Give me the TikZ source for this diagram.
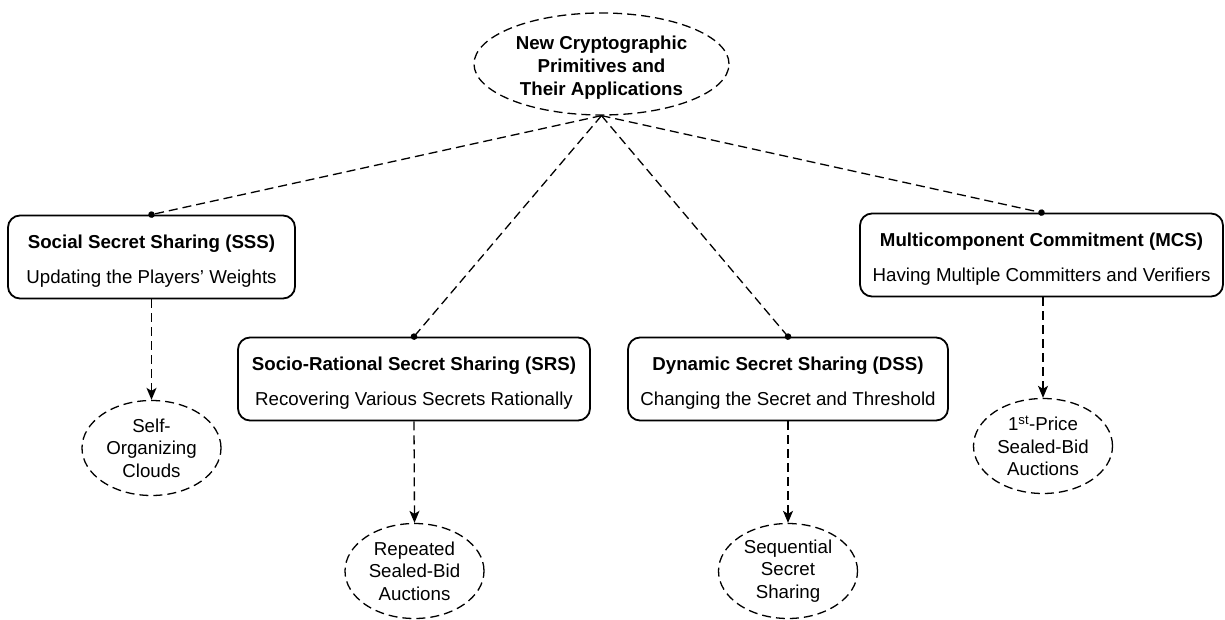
\documentclass[tikz,border=0pt]{standalone}
\usepackage{fontspec}
\setmainfont{Liberation Sans}
\usetikzlibrary{shapes.geometric,arrows.meta}
% strut that lowers a two-line text block inside its frame
\newcommand{\lowerstrut}{\rule{0pt}{22pt}}
\begin{document}
\begin{tikzpicture}[x=1pt,y=-1pt,
  txt/.style={font=\fontsize{18.7}{23}\selectfont},
  dashline/.style={dash pattern=on 9pt off 5pt,line width=1.3pt},
  topic/.style={ellipse,draw,dashline,minimum width=255pt,minimum height=102pt,
    inner sep=0pt,align=center,font=\fontsize{18.7}{23}\bfseries\selectfont},
  scheme/.style={draw,rounded corners=12pt,line width=1.8pt,minimum height=83pt,
    inner sep=0pt,align=center,txt},
  app/.style={ellipse,draw,dashline,minimum width=139pt,minimum height=95pt,
    inner sep=0pt,align=center,font=\fontsize{18.7}{22.5}\selectfont},
  hook/.style={dashline,-{Circle[length=6.5pt]},shorten >=-3.25pt},
  feed/.style={dashline,-{Stealth[length=12pt,width=10pt,inset=3pt]}}
]
\useasboundingbox (0,0) rectangle (1225,620);

% root topic
\node[topic] (root) at (601.5,64) {\rule{0pt}{21pt}New Cryptographic\\Primitives and\\Their Applications};

% the four schemes
\node[scheme,minimum width=287pt] (sss) at (151.5,257)
  {\lowerstrut\textbf{Social Secret Sharing (SSS)}\\[12pt]Updating the Players’ Weights};
\node[scheme,minimum width=352pt] (srs) at (414,379)
  {\lowerstrut\textbf{Socio-Rational Secret Sharing (SRS)}\\[12pt]Recovering Various Secrets Rationally};
\node[scheme,minimum width=320pt] (dss) at (788,379)
  {\lowerstrut\textbf{Dynamic Secret Sharing (DSS)}\\[12pt]Changing the Secret and Threshold};
\node[scheme,minimum width=363pt] (mcs) at (1041.5,255)
  {\lowerstrut\textbf{Multicomponent Commitment (MCS)}\\[12pt]Having Multiple Committers and Verifiers};

% applications
\node[app] (soc) at (151.5,448) {Self-\\Organizing\\Clouds};
\node[app] (rep) at (414.5,571) {Repeated\\Sealed-Bid\\Auctions};
\node[app] (seq) at (788,571) {Sequential\\Secret\\Sharing};
\node[app] (fpa) at (1043,446) {1\textsuperscript{st}-Price\\Sealed-Bid\\Auctions};

% root to schemes
\draw[hook] (root.south) -- (sss.north);
\draw[hook] (root.south) -- (srs.north);
\draw[hook] (root.south) -- (dss.north);
\draw[hook] (root.south) -- (mcs.north);

% schemes to applications
\draw[feed] (sss.south) -- (soc.north);
\draw[feed] (srs.south) -- (rep.north);
\draw[feed] (dss.south) -- (seq.north);
\draw[feed] (mcs.south -| fpa.north) -- (fpa.north);
\end{tikzpicture}
\end{document}
